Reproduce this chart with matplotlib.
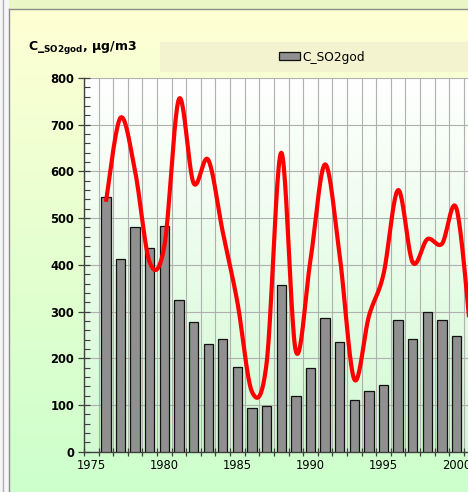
import numpy as np
import matplotlib
matplotlib.use("Agg")
import matplotlib.pyplot as plt
from matplotlib.colors import LinearSegmentedColormap
from matplotlib.patches import Rectangle, Patch
from matplotlib.lines import Line2D

# Data
years = list(range(1976, 2001))
bar_vals = [545, 412, 480, 437, 483, 324, 278, 231, 242, 181, 94, 98, 357, 119,
            179, 286, 234, 110, 129, 143, 281, 241, 300, 281, 248]
line_years = list(range(1976, 2002))
line_vals = [535, 715, 600, 405, 440, 755, 575, 625, 470, 320, 128, 190, 640, 215,
             410, 615, 420, 155, 290, 380, 560, 405, 455, 445, 520, 240]
x_labels = [1975, 1980, 1985, 1990, 1995, 2000]
series_name = "C_SO2god"

W, H = 468, 492
plt.rcParams['font.family'] = ['DejaVu Sans']
plt.rcParams['mathtext.fontset'] = 'dejavusans'


def smooth(xs, ys, n=24):
    # Catmull-Rom curve through the points (like Excel's smoothed line)
    xs = np.asarray(xs, float)
    ys = np.asarray(ys, float)
    px = np.concatenate([[xs[0]], xs, [xs[-1]]])
    py = np.concatenate([[ys[0]], ys, [ys[-1]]])
    ox, oy = [], []
    t = np.linspace(0, 1, n)
    for i in range(1, len(px) - 2):
        for p, out in ((px, ox), (py, oy)):
            p0, p1, p2, p3 = p[i - 1], p[i], p[i + 1], p[i + 2]
            out.extend(0.5 * (2 * p1 + (-p0 + p2) * t
                              + (2 * p0 - 5 * p1 + 4 * p2 - p3) * t ** 2
                              + (-p0 + 3 * p1 - 3 * p2 + p3) * t ** 3))
    return np.array(ox), np.array(oy)


fig = plt.figure(figsize=(W / 100, H / 100), dpi=100)
fig.patch.set_facecolor('#F6F6F6')

# outer strips and inner gradient panel
fig.patches.append(Rectangle((9 / W, (H - 9) / H), 1, 9 / H, transform=fig.transFigure,
                             facecolor='#EAF6C6', edgecolor='none', zorder=-20))
fig.add_artist(Line2D([3 / W, 3 / W], [0, 1], color='#B0B0B0', lw=1.0, zorder=-5))

bg = fig.add_axes([9 / W, 0, 1 - 9 / W, (H - 9) / H], zorder=-10)
bg_cmap = LinearSegmentedColormap.from_list('bg', ['#CCFFCC', '#FFFFD4'])
bg.imshow(np.linspace(0, 1, 256).reshape(-1, 1), cmap=bg_cmap, aspect='auto',
          origin='lower', extent=[0, 1, 0, 1])
bg.set_axis_off()
fig.add_artist(Line2D([9 / W, 9 / W], [0, (H - 8.5) / H], color='#8C8C8C', lw=1.0))
fig.add_artist(Line2D([9 / W, 1], [(H - 8.5) / H, (H - 8.5) / H], color='#8C8C8C', lw=1.0))

# legend band
fig.patches.append(Rectangle((160 / W, (H - 72) / H), 1, 30 / H, transform=fig.transFigure,
                             facecolor='#F3F3CF', edgecolor='none', zorder=-5))

# plot area
x0, x1 = 1974.5, 1974.5 + (W - 84) / 14.61
ax = fig.add_axes([84 / W, (H - 451.7) / H, 1 - 84 / W, (451.7 - 78) / H])
ax.set_facecolor('none')
pa_cmap = LinearSegmentedColormap.from_list('pa', ['#D2FAD2', '#FFFFFF'])
ax.imshow(np.linspace(0, 1, 256).reshape(-1, 1), cmap=pa_cmap, aspect='auto',
          origin='lower', extent=[x0, x1, 0, 800], zorder=0)

bars = ax.bar(years, bar_vals, width=0.64, color='#909090', edgecolor='#111111',
              linewidth=0.9, zorder=3, label=series_name)
sx, sy = smooth(line_years, line_vals)
ax.plot(sx, sy, color='#FF0000', lw=3, solid_capstyle='butt', zorder=4)

ax.set_xlim(x0, x1)
ax.set_ylim(0, 800)

# x: ticks between categories, labels on categories
ax.set_xticks(np.arange(1974.5, 2001.5, 1.0))
ax.set_xticklabels([])
ax.set_xticks(x_labels, minor=True)
ax.set_xticklabels([str(v) for v in x_labels], minor=True, fontsize=8.3)
ax.tick_params(axis='x', which='major', direction='inout', length=6, width=0.9, color='#404040')
ax.tick_params(axis='x', which='minor', length=0, pad=5)

ax.set_yticks(np.arange(0, 801, 100))
ax.set_yticks(np.arange(0, 801, 20), minor=True)
ax.set_yticklabels([str(v) for v in range(0, 801, 100)], fontsize=8.3, fontweight='bold')
ax.tick_params(axis='y', which='major', direction='inout', length=8, width=0.9, color='#404040', pad=3)
ax.tick_params(axis='y', which='minor', direction='in', length=4, width=0.8, color='#404040')

ax.grid(True, which='major', color='#B0B0B0', lw=0.8, zorder=1)
ax.set_axisbelow(True)
for s in ('top', 'right'):
    ax.spines[s].set_visible(False)
for s in ('left', 'bottom'):
    ax.spines[s].set_color('#404040')
    ax.spines[s].set_linewidth(1.0)

# y axis title
fig.text(28 / W, (H - 48) / H, r'$\mathbf{C\_}_{\mathbf{SO2god}}\mathbf{,\,\mu g/m3}$',
         fontsize=9, va='center', ha='left')

fig.legend(handles=[Patch(facecolor='#909090', edgecolor='#111111', linewidth=0.9)],
           labels=[series_name], loc='center', bbox_to_anchor=(322 / W, (H - 57) / H),
           frameon=False, fontsize=8.8, handlelength=1.75, handleheight=0.55,
           handletextpad=0.15, borderpad=0)

fig.savefig('out.png', dpi=100)
